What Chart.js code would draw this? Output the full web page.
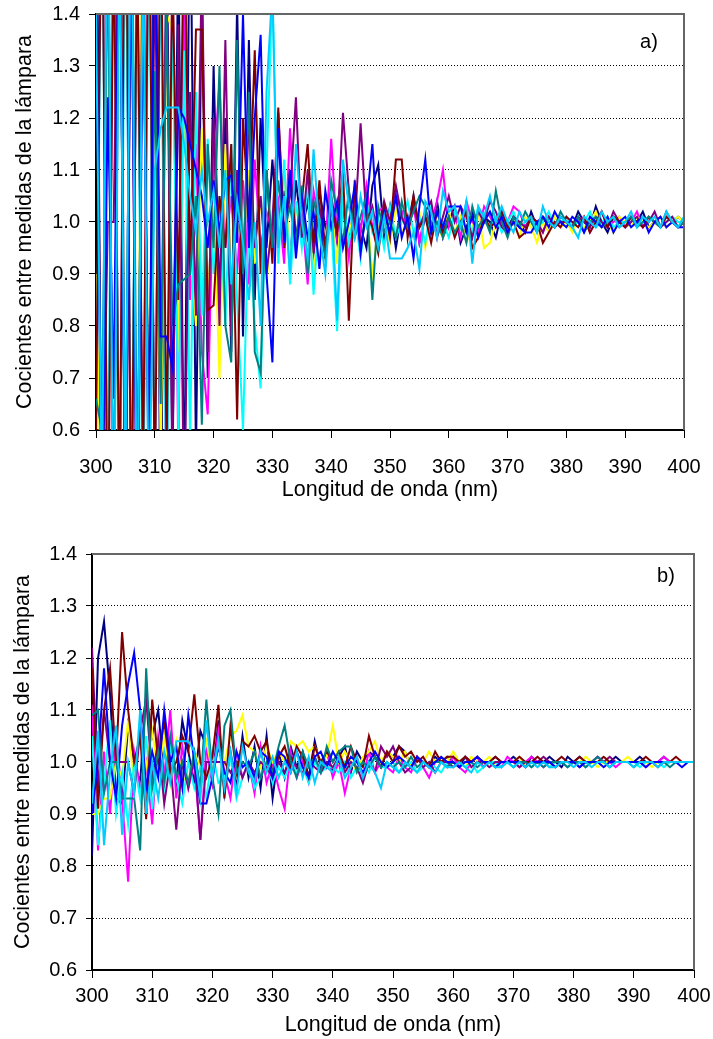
<!DOCTYPE html>
<html lang="es">
<head>
<meta charset="utf-8">
<title>Cocientes entre medidas de la lámpara</title>
<script src="https://cdn.jsdelivr.net/npm/chart.js@4.4.1/dist/chart.umd.min.js"></script>
<style>
  html, body { margin: 0; padding: 0; background: #fff; }
  #wrap { position: relative; width: 713px; height: 1039px; }
  canvas { position: absolute; left: 0; }
</style>
</head>
<body>
<div id="wrap">
  <canvas id="chartA" width="713" height="510" style="top:0"></canvas>
  <canvas id="chartB" width="713" height="499" style="top:540px"></canvas>
</div>
<script>
// === Datos: longitud de onda (nm), paso de 1 nm ===
const wavelengths = Array.from({ length: 101 }, (_, i) => 300 + i);
const yTicks = [0.6, 0.7, 0.8, 0.9, 1.0, 1.1, 1.2, 1.3, 1.4];
const xTicks = [300, 310, 320, 330, 340, 350, 360, 370, 380, 390, 400];

// === Panel a) ===
const navyA = [
  1.85, 0.35, 1.70, 0.30, 1.90, 0.45, 1.75, 0.25, 1.65, 0.40,
  1.80, 0.35, 1.60, 0.50, 1.55, 0.45, 1.70, 0.55, 1.45, 0.70,
  1.30, 0.85, 1.20, 0.75, 1.42, 0.78, 1.35, 0.85, 1.20, 0.95,
  1.12, 0.96, 1.06, 0.92, 1.08, 0.98, 1.04, 0.94, 1.06, 0.99,
  1.02, 0.96, 1.05, 0.97, 1.03, 0.99, 0.95, 1.07, 1.11, 0.97,
  1.03, 0.95, 1.02, 0.99, 1.05, 0.96, 1.01, 0.98, 1.04, 0.97,
  1.00, 1.03, 0.96, 0.99, 1.02, 0.98, 1.01, 1.00, 0.97, 1.02,
  0.99, 1.01, 1.00, 0.98, 1.02, 0.99, 1.01, 1.00, 0.99, 1.01,
  1.00, 0.99, 1.02, 1.00, 0.99, 1.03, 1.00, 0.98, 1.01, 1.00,
  0.99, 1.01, 1.00, 1.02, 0.99, 1.00, 1.01, 0.99, 1.00, 1.01, 1.00
];
const magentaA = [
  1.30, 1.80, 0.30, 1.65, 0.40, 1.75, 0.35, 1.55, 0.45, 1.70,
  0.50, 1.60, 0.40, 1.50, 0.55, 1.45, 0.85, 1.15, 0.75, 0.63,
  1.10, 1.27, 0.95, 1.05, 0.90, 1.08, 0.88, 1.12, 0.95, 1.02,
  0.98, 1.04, 0.92, 1.18, 0.96, 1.02, 0.88, 1.06, 1.00, 0.94,
  1.16, 0.97, 1.03, 0.93, 1.05, 0.98, 1.07, 0.99, 1.02, 1.03,
  0.97, 1.05, 1.02, 0.98, 1.03, 0.96, 1.02, 1.00, 1.04, 1.10,
  0.99, 1.02, 0.97, 1.04, 1.00, 0.98, 1.03, 1.01, 0.99, 1.02,
  1.00, 1.03, 1.02, 0.99, 1.01, 1.00, 0.98, 1.01, 1.00, 0.99,
  1.01, 0.99, 1.00, 1.01, 0.98, 1.00, 1.02, 0.99, 1.00, 1.01,
  0.99, 1.00, 1.02, 0.99, 1.01, 1.00, 0.99, 1.01, 1.00, 0.99, 1.00
];
const yellowA = [
  0.90, 0.40, 1.60, 0.25, 1.75, 0.45, 1.65, 0.35, 1.80, 0.50,
  1.55, 0.55, 1.40, 1.37, 0.75, 1.20, 0.95, 0.80, 1.18, 0.85,
  1.05, 0.70, 1.15, 0.90, 1.00, 0.95, 1.10, 0.92, 1.05, 0.88,
  1.02, 0.95, 1.10, 0.93, 1.03, 0.97, 1.08, 0.90, 1.00, 0.96,
  1.04, 0.92, 1.06, 0.98, 1.02, 0.95, 1.03, 0.90, 0.99, 1.01,
  0.96, 1.03, 0.98, 1.00, 0.97, 1.02, 0.95, 1.01, 0.99, 0.97,
  1.02, 0.98, 1.01, 0.96, 0.99, 1.02, 0.95, 0.96, 1.00, 1.01,
  0.98, 1.00, 0.97, 1.01, 0.99, 0.96, 1.00, 0.98, 1.01, 0.99,
  1.00, 0.98, 1.01, 0.99, 1.00, 1.02, 0.99, 1.00, 0.98, 1.01,
  1.00, 0.99, 1.01, 1.00, 0.99, 1.00, 1.01, 0.99, 1.00, 1.01, 1.00
];
const cyanA = [
  0.55, 1.70, 0.40, 1.80, 0.30, 1.65, 0.45, 1.50, 0.35, 1.60,
  0.50, 1.55, 0.40, 1.45, 0.60, 1.33, 0.58, 1.25, 0.82, 1.16,
  0.90, 1.05, 0.80, 1.15, 0.85, 0.60, 1.02, 0.80, 0.68, 1.10,
  1.45, 0.92, 1.12, 0.88, 1.04, 0.95, 1.08, 0.86, 1.02, 0.94,
  1.00, 0.79, 1.05, 0.96, 1.02, 0.93, 1.04, 0.98, 1.01, 0.95,
  1.03, 0.97, 1.00, 1.04, 0.98, 1.01, 0.96, 1.03, 0.99, 1.00,
  0.97, 1.02, 0.99, 1.01, 0.98, 1.03, 1.00, 0.99, 1.01, 0.98,
  1.00, 1.02, 0.99, 1.00, 1.01, 0.99, 1.00, 1.02, 0.99, 1.00,
  1.01, 0.99, 1.00, 1.00, 1.02, 0.99, 1.00, 1.01, 0.99, 1.00,
  1.00, 1.01, 0.99, 1.00, 1.01, 1.00, 0.99, 1.00, 1.01, 1.00, 1.00
];
const purpleA = [
  1.60, 0.40, 1.00, 1.00, 1.70, 0.35, 1.55, 0.30, 1.65, 0.45,
  1.50, 0.70, 1.45, 0.55, 1.38, 0.40, 1.25, 0.82, 1.50, 0.75,
  1.20, 0.80, 1.35, 0.78, 1.10, 0.90, 1.20, 0.95, 1.05, 0.90,
  1.00, 1.21, 0.98, 1.05, 1.24, 0.97, 1.10, 0.94, 1.03, 0.96,
  1.02, 0.98, 1.21, 1.06, 0.99, 1.19, 1.00, 1.03, 0.97, 1.04,
  1.00, 1.07, 1.01, 0.98, 1.03, 0.99, 1.02, 1.04, 0.97, 1.01,
  1.05, 1.00, 1.03, 1.01, 0.97, 1.02, 1.00, 1.04, 1.02, 0.99,
  0.98, 1.01, 1.00, 0.99, 1.01, 1.00, 0.98, 1.01, 0.99, 1.00,
  1.00, 0.99, 1.01, 1.00, 0.99, 1.01, 1.00, 0.99, 1.02, 1.00,
  0.99, 1.00, 1.01, 0.99, 1.00, 1.02, 0.99, 1.00, 1.01, 0.99, 1.00
];
const maroonA = [
  0.60, 1.75, 0.30, 1.60, 0.40, 1.85, 0.35, 1.55, 0.50, 1.70,
  0.45, 1.65, 0.55, 1.50, 0.85, 1.60, 0.90, 1.37, 1.37, 0.83,
  0.84, 1.05, 0.95, 1.15, 0.62, 1.20, 1.00, 1.33, 0.90, 1.10,
  0.92, 1.22, 0.95, 1.10, 0.97, 1.04, 1.15, 0.96, 1.08, 0.93,
  1.05, 0.98, 1.10, 0.81, 1.08, 0.95, 1.02, 0.99, 0.94, 1.03,
  0.97, 1.12, 1.12, 0.97, 1.05, 0.99, 1.01, 0.96, 1.02, 0.98,
  1.01, 0.97, 1.00, 1.02, 0.95, 0.97, 1.01, 0.99, 1.00, 1.02,
  0.99, 1.00, 0.97, 0.98, 1.01, 1.00, 0.96, 0.98, 1.00, 0.99,
  1.01, 1.00, 0.99, 1.01, 0.98, 1.00, 1.02, 0.99, 1.01, 1.00,
  0.99, 1.01, 1.00, 0.99, 1.01, 1.00, 0.99, 1.01, 1.00, 0.99, 1.00
];
const tealA = [
  0.66, 0.60, 1.55, 0.35, 1.65, 0.40, 1.80, 0.45, 1.50, 0.55,
  1.29, 0.65, 1.40, 0.80, 0.88, 0.89, 0.90, 1.05, 0.61, 1.15,
  0.95, 1.30, 0.80, 0.73, 1.35, 0.90, 1.25, 0.75, 0.71, 1.10,
  0.95, 1.08, 0.98, 1.03, 0.96, 1.07, 0.90, 1.04, 1.00, 0.93,
  1.08, 1.02, 0.96, 1.06, 0.97, 1.01, 1.05, 0.85, 1.03, 0.98,
  1.00, 0.97, 1.04, 0.99, 1.02, 1.05, 1.03, 0.98, 1.00, 0.97,
  1.01, 0.98, 1.00, 0.96, 1.03, 0.99, 1.01, 0.98, 1.06, 1.00,
  0.97, 1.01, 0.99, 1.02, 1.00, 0.98, 1.01, 1.00, 0.99, 1.02,
  1.00, 0.99, 1.01, 0.98, 1.00, 1.01, 0.99, 1.00, 1.01, 0.99,
  1.00, 1.01, 0.99, 1.00, 1.01, 1.00, 0.99, 1.02, 1.00, 0.99, 1.00
];
const blueA = [
  1.50, 0.35, 1.24, 0.66, 1.70, 0.40, 1.60, 0.30, 1.45, 0.55,
  1.65, 0.78, 0.78, 0.72, 1.22, 1.20, 1.15, 1.10, 1.05, 0.95,
  1.08, 0.98, 1.08, 1.09, 0.96, 1.40, 0.95, 1.20, 1.36, 0.90,
  0.73, 1.18, 0.96, 1.10, 0.93, 1.05, 0.97, 1.02, 0.91, 1.06,
  0.99, 1.04, 0.95, 1.00, 1.07, 0.94, 1.03, 1.15, 0.96, 1.02,
  0.98, 1.05, 0.97, 1.01, 0.93, 1.03, 1.12, 0.98, 1.02, 0.99,
  1.03, 1.03, 1.03, 0.98, 1.01, 0.97, 1.00, 1.02, 0.99, 1.01,
  0.98, 1.00, 0.99, 0.98, 0.98, 1.00, 1.01, 0.99, 1.02, 1.00,
  0.99, 1.01, 1.00, 0.98, 1.01, 1.00, 0.99, 1.01, 0.98, 1.00,
  1.01, 0.99, 1.00, 1.01, 0.98, 1.00, 1.01, 0.99, 1.00, 0.99, 0.99
];
const skyA = [
  1.40, 0.45, 1.75, 0.30, 1.60, 0.50, 1.70, 0.35, 1.55, 0.40,
  1.10, 1.18, 1.22, 1.22, 1.22, 1.15, 1.05, 0.98, 1.10, 1.00,
  1.06, 0.95, 1.10, 0.88, 1.04, 0.96, 0.85, 1.00, 0.80, 1.25,
  1.45, 0.95, 1.05, 0.90, 1.15, 1.00, 0.93, 1.14, 0.98, 0.90,
  1.06, 0.81, 1.12, 1.03, 0.97, 1.05, 0.99, 1.02, 0.95, 1.01,
  0.93, 0.93, 0.93, 0.95, 0.98, 0.91, 1.04, 1.02, 0.97, 1.06,
  1.02, 1.03, 0.99, 1.04, 0.92, 1.03, 1.01, 1.05, 1.00, 1.03,
  1.00, 0.98, 1.02, 1.00, 1.01, 0.98, 1.03, 1.00, 0.99, 1.01,
  1.00, 0.99, 0.97, 1.01, 1.00, 0.99, 1.02, 1.00, 1.01, 0.99,
  1.00, 1.02, 0.99, 1.01, 1.00, 1.01, 0.99, 1.02, 1.00, 0.99, 1.01
];

// === Panel b) ===
const navyB = [
  0.82, 1.20, 1.27, 1.13, 0.93, 0.92, 1.07, 1.00, 0.96, 1.13,
  1.05, 1.10, 0.97, 1.04, 0.96, 1.08, 1.02, 0.96, 1.06, 1.03,
  0.96, 1.08, 0.94, 1.02, 0.95, 1.05, 0.97, 1.03, 0.95, 1.05,
  0.93, 1.02, 0.97, 1.03, 0.99, 1.02, 0.97, 1.04, 0.99, 1.02,
  0.98, 1.01, 1.03, 0.98, 1.02, 1.00, 1.02, 1.01, 0.99, 1.02,
  1.01, 1.03, 1.02, 0.99, 1.01, 1.00, 0.99, 1.01, 1.00, 1.01,
  1.00, 0.99, 1.01, 1.00, 1.01, 0.99, 1.00, 1.01, 1.00, 1.00,
  1.01, 1.00, 0.99, 1.01, 1.00, 1.00, 1.01, 1.00, 0.99, 1.01,
  1.00, 1.01, 1.00, 1.00, 1.01, 1.00, 1.00, 1.01, 1.00, 1.00,
  1.00, 1.01, 1.00, 1.00, 1.00, 1.01, 1.00, 1.00, 1.00, 1.00, 1.00
];
const magentaB = [
  1.11, 0.83, 1.02, 0.90, 1.06, 0.93, 0.77, 1.02, 0.95, 1.00,
  0.88, 1.05, 0.97, 1.10, 0.93, 1.03, 0.95, 1.00, 0.85, 1.03,
  0.96, 1.06, 0.98, 0.93, 1.02, 0.97, 1.00, 0.94, 1.03, 0.96,
  1.00, 0.95, 0.91, 1.02, 0.97, 1.00, 0.96, 1.01, 0.98, 1.02,
  0.97, 1.00, 0.94, 0.99, 1.01, 0.97, 1.02, 0.98, 1.00, 0.99,
  0.98, 1.01, 0.99, 0.98, 1.01, 0.99, 0.97, 1.00, 1.00, 0.99,
  1.01, 0.99, 0.98, 1.00, 1.01, 0.99, 1.00, 1.00, 0.99, 1.01,
  1.00, 0.99, 1.00, 1.01, 1.00, 0.99, 1.00, 1.00, 1.00, 0.99,
  1.00, 1.00, 0.99, 1.00, 1.01, 1.00, 1.00, 0.99, 1.00, 1.00,
  1.00, 1.00, 0.99, 1.00, 1.00, 1.01, 1.00, 1.00, 1.00, 1.00, 1.00
];
const yellowB = [
  0.90, 0.90, 0.93, 0.93, 1.00, 0.97, 1.08, 0.95, 1.06, 0.99,
  1.06, 0.98, 1.05, 0.96, 1.04, 0.97, 0.96, 1.02, 0.99, 1.04,
  0.98, 1.03, 1.00, 1.05, 1.06, 1.09, 1.03, 1.02, 0.99, 1.03,
  1.00, 1.02, 1.00, 1.04, 1.03, 1.04, 1.02, 1.03, 1.00, 1.01,
  1.07, 1.00, 1.02, 1.00, 0.98, 1.01, 1.02, 1.04, 1.00, 1.02,
  1.01, 1.00, 1.02, 0.99, 1.01, 1.00, 1.02, 1.00, 1.01, 1.00,
  1.02, 1.00, 0.99, 1.01, 1.00, 1.00, 1.01, 0.99, 1.00, 1.00,
  1.00, 1.01, 0.99, 1.00, 1.00, 1.00, 0.99, 1.00, 1.00, 1.00,
  1.00, 1.00, 1.01, 1.00, 0.99, 1.00, 1.00, 1.00, 1.00, 1.01,
  1.00, 1.00, 1.00, 0.99, 1.00, 1.00, 1.00, 1.00, 1.00, 1.00, 1.00
];
const cyanB = [
  1.05, 0.84, 0.96, 1.08, 0.90, 0.98, 0.88, 1.00, 0.93, 1.05,
  0.91, 1.02, 0.95, 1.03, 0.97, 0.92, 1.00, 0.95, 0.99, 0.93,
  1.02, 0.96, 0.97, 1.01, 0.93, 0.97, 1.00, 0.95, 0.97, 1.00,
  0.96, 0.99, 0.97, 1.00, 0.98, 0.99, 0.96, 1.00, 0.98, 0.99,
  0.99, 0.98, 1.00, 0.97, 0.99, 1.00, 0.98, 1.01, 0.99, 0.99,
  1.00, 0.98, 0.99, 1.00, 0.98, 0.99, 1.00, 0.99, 0.98, 1.00,
  0.99, 1.00, 0.99, 1.00, 0.98, 0.99, 1.00, 1.00, 0.99, 1.00,
  0.99, 1.00, 1.00, 0.99, 1.00, 1.00, 0.99, 1.00, 1.00, 0.99,
  1.00, 1.00, 0.99, 1.00, 1.00, 1.00, 0.99, 1.00, 1.00, 1.00,
  1.00, 0.99, 1.00, 1.00, 1.00, 0.99, 1.00, 1.00, 1.00, 1.00, 1.00
];
const purpleB = [
  1.22, 0.95, 1.10, 1.00, 1.00, 1.00, 1.00, 0.94, 1.06, 1.12,
  0.97, 1.04, 0.92, 1.00, 0.87, 1.00, 0.95, 1.01, 0.85, 1.00,
  1.00, 1.00, 1.00, 0.98, 1.00, 0.97, 1.00, 0.98, 1.00, 0.99,
  0.97, 1.00, 0.98, 1.01, 0.99, 0.98, 1.00, 0.99, 0.98, 1.00,
  0.99, 1.01, 0.98, 1.00, 0.99, 0.96, 1.00, 0.98, 1.03, 1.01,
  1.03, 1.00, 0.98, 0.99, 1.01, 0.99, 1.00, 0.98, 1.00, 1.00,
  0.99, 1.00, 1.01, 0.99, 1.00, 1.00, 0.99, 1.00, 1.00, 1.00,
  1.00, 0.99, 1.00, 1.00, 1.00, 1.01, 1.00, 0.99, 1.00, 1.00,
  1.00, 0.99, 1.00, 1.00, 1.00, 1.00, 1.01, 1.00, 1.00, 1.00,
  1.00, 1.00, 1.00, 1.00, 0.99, 1.00, 1.00, 1.00, 1.00, 1.00, 1.00
];
const maroonB = [
  1.18, 0.91, 1.10, 1.18, 1.00, 1.25, 1.10, 1.00, 1.05, 0.89,
  1.12, 1.00, 1.08, 0.98, 1.00, 1.05, 1.02, 1.13, 1.00, 0.97,
  1.01, 1.11, 0.93, 1.07, 0.98, 1.04, 1.03, 1.05, 1.02, 1.04,
  0.98, 1.01, 1.03, 0.99, 1.03, 1.01, 0.97, 1.03, 1.00, 1.02,
  1.00, 1.02, 0.99, 1.03, 1.00, 0.99, 1.05, 1.01, 0.99, 1.02,
  1.00, 1.03, 1.01, 1.02, 1.00, 1.01, 0.99, 1.02, 1.00, 1.01,
  1.01, 1.00, 1.01, 1.00, 1.01, 1.00, 1.00, 1.01, 1.00, 1.00,
  1.00, 1.01, 1.00, 1.00, 1.01, 1.00, 1.00, 1.00, 1.01, 1.00,
  1.00, 1.01, 1.00, 1.00, 1.00, 1.01, 1.00, 1.00, 1.00, 1.00,
  1.00, 1.00, 1.01, 1.00, 1.00, 1.00, 1.00, 1.01, 1.00, 1.00, 1.00
];
const tealB = [
  1.09, 1.10, 0.94, 1.00, 1.00, 0.93, 0.93, 0.93, 0.83, 1.18,
  0.95, 1.02, 0.96, 1.05, 0.97, 1.00, 0.96, 1.02, 0.95, 1.12,
  0.97, 0.90, 1.07, 1.10, 0.98, 1.00, 0.99, 1.02, 0.97, 1.00,
  0.98, 1.03, 1.07, 1.00, 0.97, 1.02, 0.99, 1.01, 0.98, 1.03,
  1.00, 1.02, 1.03, 1.03, 0.98, 1.00, 0.99, 1.01, 0.99, 1.00,
  0.99, 1.00, 0.99, 1.01, 0.99, 1.00, 0.99, 1.00, 1.00, 0.99,
  1.00, 0.99, 1.00, 1.00, 0.99, 1.00, 1.00, 0.99, 1.00, 1.00,
  0.99, 1.00, 1.00, 0.99, 1.00, 0.99, 1.00, 1.00, 1.00, 0.99,
  1.00, 1.00, 0.99, 1.00, 1.01, 1.00, 0.99, 1.00, 1.00, 1.00,
  0.99, 1.00, 1.00, 1.00, 1.00, 1.00, 0.99, 1.00, 1.00, 1.00, 1.00
];
const blueB = [
  0.90, 1.00, 1.18, 1.00, 0.93, 1.07, 1.15, 1.21, 1.10, 0.95,
  1.02, 0.97, 1.10, 1.00, 1.03, 0.95, 1.09, 1.00, 0.92, 0.92,
  0.97, 1.03, 0.98, 0.96, 1.02, 0.99, 1.00, 0.97, 1.02, 1.01,
  0.97, 1.02, 1.01, 0.98, 1.02, 0.99, 0.97, 1.01, 1.02, 0.99,
  1.02, 1.00, 0.99, 1.01, 1.00, 0.98, 1.00, 1.02, 1.00, 0.99,
  1.00, 1.01, 1.00, 0.99, 1.01, 1.00, 0.99, 1.00, 1.01, 1.00,
  1.00, 0.99, 1.00, 1.00, 1.01, 1.00, 1.00, 0.99, 1.00, 1.00,
  1.00, 1.00, 0.99, 1.00, 1.00, 1.00, 1.00, 0.99, 1.00, 1.00,
  1.00, 0.99, 1.00, 1.00, 1.00, 0.99, 1.00, 1.00, 1.00, 1.00,
  1.00, 1.00, 0.99, 1.00, 1.00, 1.00, 1.00, 1.00, 0.99, 1.00, 1.00
];
const skyB = [
  0.92, 1.06, 0.84, 0.98, 1.07, 0.86, 1.00, 0.94, 1.10, 0.90,
  1.00, 0.93, 1.02, 0.96, 1.04, 1.04, 1.04, 1.02, 0.93, 1.08,
  0.97, 1.04, 0.95, 1.02, 0.94, 1.03, 0.98, 0.96, 1.02, 0.98,
  1.01, 0.97, 1.00, 0.98, 1.02, 0.97, 1.01, 0.96, 1.00, 0.99,
  0.98, 1.01, 0.97, 0.99, 1.01, 0.97, 1.00, 0.98, 0.95, 1.00,
  0.99, 0.98, 1.00, 0.99, 0.98, 1.00, 0.99, 0.98, 1.00, 0.99,
  0.99, 1.00, 0.99, 0.98, 1.00, 0.99, 1.00, 0.99, 0.99, 1.00,
  0.99, 1.00, 0.99, 1.00, 0.99, 1.00, 0.99, 0.99, 1.00, 1.00,
  0.99, 1.00, 1.00, 0.99, 1.00, 1.00, 0.99, 1.00, 1.00, 1.00,
  0.99, 1.00, 1.00, 1.00, 0.99, 1.00, 1.00, 1.00, 1.00, 1.00, 1.00
];

// Colores de serie (orden de Excel)
const seriesColors = ['#000080', '#FF00FF', '#FFFF00', '#00FFFF', '#800080', '#800000', '#008080', '#0000FF', '#00CCFF'];
const seriesA = [navyA, magentaA, yellowA, cyanA, purpleA, maroonA, tealA, blueA, skyA];
const seriesB = [navyB, magentaB, yellowB, cyanB, purpleB, maroonB, tealB, blueB, skyB];

Chart.defaults.font.family = '"Liberation Sans", Arial, sans-serif';
Chart.defaults.color = '#000';

// === Plugin: marco superior/derecho y etiqueta del panel ===
const frameAndTag = {
  id: 'frameAndTag',
  afterDraw(chart, args, opts) {
    const { ctx, chartArea: a } = chart;
    ctx.save();
    ctx.strokeStyle = '#666';
    ctx.lineWidth = 2;
    ctx.beginPath();
    ctx.moveTo(a.left, a.top);
    ctx.lineTo(a.right, a.top);
    ctx.lineTo(a.right, a.bottom);
    ctx.stroke();
    ctx.fillStyle = '#000';
    ctx.font = '20px "Liberation Sans", Arial, sans-serif';
    ctx.textAlign = 'center';
    ctx.textBaseline = 'middle';
    ctx.fillText(opts.text, opts.x, opts.y);
    ctx.restore();
  }
};

function makePanel(canvasId, series, cfg) {
  // la primera serie de Chart.js se dibuja encima: invertimos
  const datasets = series.map((vals, i) => ({
    data: vals.map((v, j) => ({ x: wavelengths[j], y: v })),
    borderColor: seriesColors[i],
    borderWidth: 2,
    pointRadius: 0,
    tension: 0,
    fill: false
  })).reverse();

  return new Chart(document.getElementById(canvasId), {
    type: 'line',
    data: { datasets },
    options: {
      responsive: false,
      animation: false,
      layout: { padding: { top: 14, right: cfg.padRight, left: 0, bottom: 0 } },
      plugins: {
        legend: { display: false },
        tooltip: { enabled: false },
        frameAndTag: { text: cfg.tag, x: cfg.tagX, y: cfg.tagY }
      },
      scales: {
        x: {
          type: 'linear',
          min: xTicks[0],
          max: xTicks[xTicks.length - 1],
          afterFit: s => {
            s.height = cfg.xAxisHeight;
            s.paddingLeft = 0;
            s.paddingRight = 0;
          },
          afterBuildTicks: s => { s.ticks = xTicks.map(v => ({ value: v })); },
          ticks: { padding: cfg.xTickPad, font: { size: 20 }, maxRotation: 0, autoSkip: false },
          grid: { drawOnChartArea: false, drawTicks: true, tickLength: 8, tickColor: '#000', tickWidth: 1 },
          border: { display: true, color: '#000', width: 2 },
          title: {
            display: true,
            text: 'Longitud de onda (nm)',
            font: { size: 21.5 },
            padding: { top: 0, bottom: cfg.xTitlePad }
          }
        },
        y: {
          min: yTicks[0],
          max: yTicks[yTicks.length - 1],
          afterFit: s => {
            s.width = cfg.yAxisWidth;
            s.paddingTop = 0;
            s.paddingBottom = 0;
          },
          afterBuildTicks: s => { s.ticks = yTicks.map(v => ({ value: v })); },
          ticks: { padding: 9, font: { size: 20 }, callback: v => Number(v).toFixed(1) },
          grid: {
            color: c => (c.index === 0 ? 'rgba(0,0,0,0)' : '#000'),
            lineWidth: 1,
            drawTicks: true,
            tickLength: cfg.yTickLen,
            tickColor: '#000',
            tickBorderDash: []
          },
          border: { display: true, color: '#000', width: 2, dash: [1, 2] },
          title: {
            display: true,
            text: 'Cocientes entre medidas de la lámpara',
            font: { size: 21.5 },
            padding: { top: cfg.yTitlePad, bottom: 0 }
          }
        }
      }
    },
    plugins: [frameAndTag]
  });
}

makePanel('chartA', seriesA, {
  tag: 'a)', tagX: 649, tagY: 42,
  padRight: 29, yAxisWidth: 96, xAxisHeight: 80,
  xTickPad: 17, xTitlePad: 7, yTitlePad: 12, yTickLen: 7
});

makePanel('chartB', seriesB, {
  tag: 'b)', tagX: 666, tagY: 36,
  padRight: 19, yAxisWidth: 92, xAxisHeight: 69,
  xTickPad: 6, xTitlePad: 1, yTitlePad: 10, yTickLen: 6
});
</script>
</body>
</html>
